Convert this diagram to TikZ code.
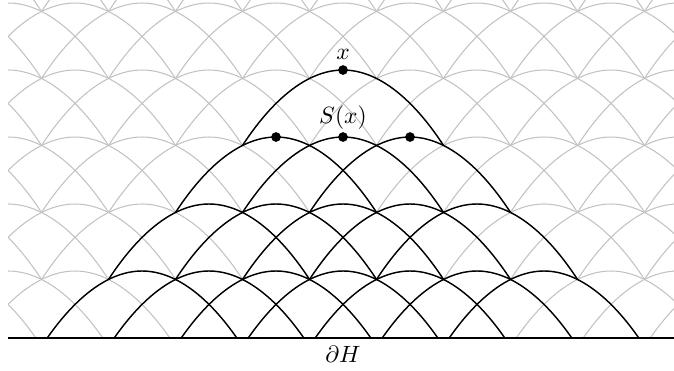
\documentclass[tikz,border=0pt]{standalone}
\begin{document}
\begin{tikzpicture}[
  gridarc/.style={draw=black!24, line width=0.45pt},
  treearc/.style={draw=black, line width=0.6pt},
  dotnode/.style={circle, fill=black, inner sep=0pt, minimum size=1.45mm},
  lbl/.style={inner sep=0pt, font=\normalsize}
]
\useasboundingbox (-5.12,-0.478) rectangle (4.94,5.045);
\begin{scope}
  \clip (-5,0) rectangle (5,5.045);
  % grey background pattern
  \foreach \j in {1,...,6}{
    \foreach \i in {-7,...,7}{
      \draw[gridarc] (\i-1.5,\j-1.125) parabola bend (\i,\j) (\i+1.5,\j-1.125);
    }
  }
  % black tree below x
  \draw[treearc] (-1.5,2.875) parabola bend (0,4) (1.5,2.875);
  \foreach \i in {-1,0,1}{
    \draw[treearc] (\i-1.5,1.875) parabola bend (\i,3) (\i+1.5,1.875);
  }
  \foreach \i in {-2,...,2}{
    \draw[treearc] (\i-1.5,0.875) parabola bend (\i,2) (\i+1.5,0.875);
  }
  \foreach \i in {-3,...,3}{
    \draw[treearc] (\i-1.5,-0.125) parabola bend (\i,1) (\i+1.5,-0.125);
  }
\end{scope}
\coordinate (bl) at (-5,0);
\coordinate (br) at (5,0);
\draw[line width=0.6pt] (bl) -- (br);
\node[dotnode] (x) at (0,4) {};
\node[dotnode] (s1) at (-1,3) {};
\node[dotnode] (s2) at (0,3) {};
\node[dotnode] (s3) at (1,3) {};
\node[lbl] (xl) at (0,4.24) {$x$};
\node[lbl] (sl) at (0,3.29) {$S(x)$};
\node[lbl] (dh) at (0,-0.24) {$\partial H$};
\end{tikzpicture}
\end{document}
